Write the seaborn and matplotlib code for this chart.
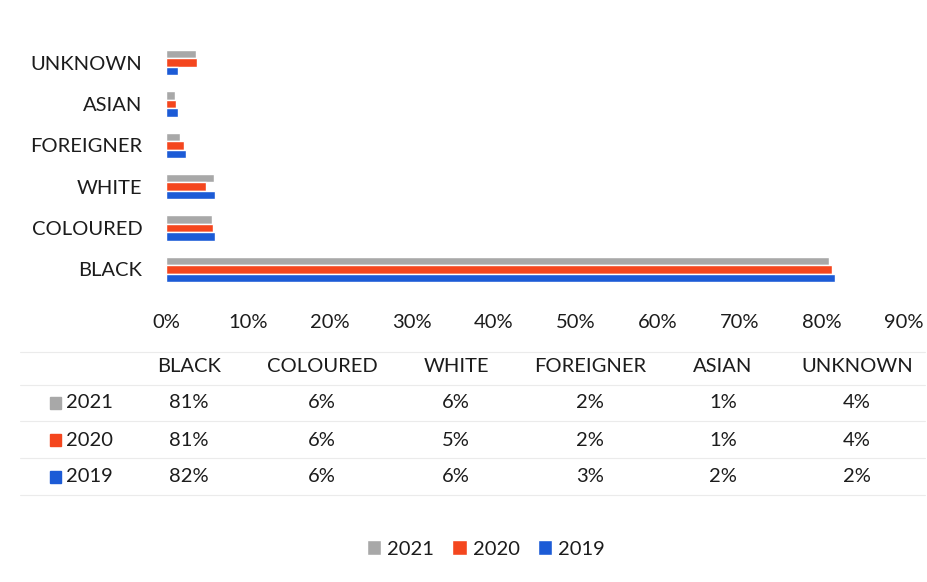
import pandas as pd
import matplotlib.pyplot as plt
import matplotlib.patches as mpatches
import seaborn as sns

# bar lengths (share of total)
categories = ['UNKNOWN', 'ASIAN', 'FOREIGNER', 'WHITE', 'COLOURED', 'BLACK']
years = ['2021', '2020', '2019']
share_2021 = [0.036, 0.011, 0.017, 0.058, 0.056, 0.809]
share_2020 = [0.038, 0.012, 0.022, 0.049, 0.057, 0.812]
share_2019 = [0.015, 0.015, 0.024, 0.060, 0.060, 0.816]

# data table under the chart (as printed)
table_cols = ['BLACK', 'COLOURED', 'WHITE', 'FOREIGNER', 'ASIAN', 'UNKNOWN']
table_2021 = ['81%', '6%', '6%', '2%', '1%', '4%']
table_2020 = ['81%', '6%', '5%', '2%', '1%', '4%']
table_2019 = ['82%', '6%', '6%', '3%', '2%', '2%']

colors = {'2021': '#a8a8a8', '2020': '#f4461e', '2019': '#1c5bd6'}
txt = '#1c1c1c'

rows = []
for yr, vals in zip(years, [share_2021, share_2020, share_2019]):
    for cat, v in zip(categories, vals):
        rows.append({'group': cat, 'year': yr, 'share': v})
df = pd.DataFrame(rows)

sns.set_style('white')
plt.rcParams['font.family'] = ['Lato', 'DejaVu Sans']

W, H = 928, 582
fig = plt.figure(figsize=(W / 100, H / 100), dpi=100)
ax = fig.add_axes([166 / W, 1 - 290 / H, (904 - 166) / W, (290 - 42) / H])

sns.barplot(data=df, y='group', x='share', hue='year', order=categories,
            hue_order=years, palette=colors, width=0.62, orient='h',
            saturation=1, ax=ax, legend=True)

ax.set_xlim(0, 0.9)
ax.set_ylim(5.5, -0.5)
ax.set_xticks([i / 10 for i in range(10)])
ax.set_xticklabels([f'{i * 10}%' for i in range(10)], fontsize=14.5, color=txt)
ax.tick_params(axis='y', labelsize=14.5, labelcolor=txt, pad=17)
ax.tick_params(axis='x', pad=17)
ax.tick_params(length=0)
ax.set_xlabel('')
ax.set_ylabel('')
sns.despine(ax=ax, left=True, bottom=True)

handles, labels = ax.get_legend_handles_labels()
ax.get_legend().remove()


def fx(px):
    return px / W


def fy(py):
    return 1 - py / H


# faint table rules
for py in [352, 385, 421, 458, 495]:
    fig.add_artist(plt.Line2D([fx(20), fx(925)], [fy(py), fy(py)],
                              color='#ebebeb', lw=0.8))

col_x = [189, 322, 456, 590, 723, 857]
for x, name in zip(col_x, table_cols):
    fig.text(fx(x), fy(367), name, ha='center', va='center', fontsize=14.5, color=txt)

for py, yr, vals in zip([403, 440, 477], years, [table_2021, table_2020, table_2019]):
    fig.add_artist(mpatches.Rectangle((fx(50), fy(py + 6)), fx(11), 12 / H,
                                      color=colors[yr], transform=fig.transFigure))
    fig.text(fx(66), fy(py), yr, ha='left', va='center', fontsize=14.5, color=txt)
    for x, v in zip(col_x, vals):
        fig.text(fx(x), fy(py), v, ha='center', va='center', fontsize=14.5, color=txt)

fig.legend(handles, labels, loc='center', bbox_to_anchor=(fx(486), fy(549)), ncol=3,
           frameon=False, fontsize=14.5, handlelength=0.7, handleheight=0.7,
           handletextpad=0.3, columnspacing=0.9, labelcolor=txt)

fig.savefig('out.png', dpi=100, facecolor='white')
